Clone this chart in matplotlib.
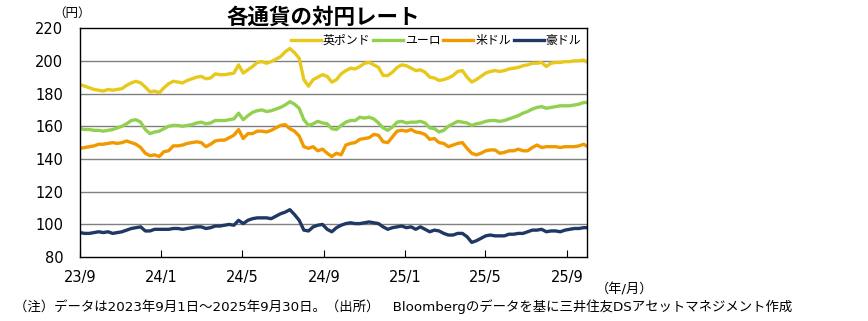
"""Yen cross rates chart (GBP, EUR, USD, AUD vs JPY)."""

import matplotlib
matplotlib.use("Agg")
import matplotlib.pyplot as plt
import pandas as pd

plt.rcParams["font.family"] = ["DejaVu Sans", "Noto Sans CJK JP"]

# weekly (Friday) readings, 2023-09-01 .. 2025-09-26, plus the 2025-09-30 close
gbp = [
    185.5, 184.5, 183.5, 182.5, 182.0,          # 2023 Sep
    181.5, 182.5, 182.0, 182.5,                 # Oct
    183.0, 185.0, 186.5, 187.5,                 # Nov
    186.5, 184.0, 181.0, 181.5, 180.5,          # Dec
    183.5, 186.0, 187.5, 187.0,                 # 2024 Jan
    186.5, 188.0, 189.0, 190.0,                 # Feb
    190.5, 189.0, 189.5, 192.0, 191.5,          # Mar
    191.5, 192.0, 192.5, 197.5,                 # Apr
    192.5, 194.5, 196.5, 199.0, 199.5,          # May
    198.5, 199.5, 201.0, 202.5,                 # Jun
    205.5, 207.5, 205.0, 201.5,                 # Jul
    188.5, 184.5, 188.5, 190.0, 191.5,          # Aug
    190.5, 187.0, 188.5, 192.0,                 # Sep
    194.0, 195.5, 195.0, 196.5,                 # Oct
    198.5, 199.0, 197.5, 196.0, 191.0,          # Nov
    191.0, 193.0, 196.0, 197.5,                 # Dec
    197.0, 195.5, 194.0, 194.5, 193.0,          # 2025 Jan
    190.0, 189.5, 188.0, 188.5,                 # Feb
    189.5, 191.0, 193.5, 194.0,                 # Mar
    190.0, 187.0, 188.5, 190.5,                 # Apr
    192.5, 193.5, 194.0, 193.5, 194.0,          # May
    195.0, 195.5, 196.0, 197.0,                 # Jun
    197.5, 198.5, 198.5, 199.0,                 # Jul
    196.5, 198.5, 199.0, 199.0, 199.5,          # Aug
    199.5, 200.0, 200.0, 200.5, 199.5,          # Sep
]
eur = [
    158.5, 158.0, 158.0, 157.5, 157.5,
    157.0, 157.5, 158.0, 159.0,
    160.0, 161.5, 163.5, 164.0,
    162.5, 158.0, 155.5, 156.5, 157.0,
    158.5, 160.0, 160.5, 160.5,
    160.0, 160.5, 161.0, 162.0,
    162.5, 161.5, 162.0, 163.5, 163.5,
    163.5, 164.0, 164.5, 168.0,
    164.0, 166.5, 168.5, 169.5, 170.0,
    169.0, 169.5, 170.5, 171.5,
    173.0, 175.0, 173.5, 171.0,
    164.0, 160.5, 161.5, 163.0, 162.0,
    161.5, 158.5, 158.0, 160.5,
    162.5, 163.5, 163.5, 165.5,
    165.0, 165.5, 164.5, 162.0, 159.0,
    157.5, 159.5, 162.5, 163.0,
    162.0, 162.5, 162.5, 163.0, 162.0,
    159.0, 158.5, 156.5, 157.5,
    160.0, 161.5, 163.0, 162.5,
    162.0, 160.5, 161.5, 162.0,
    163.0, 163.5, 163.5, 163.0, 163.5,
    164.5, 165.5, 166.5, 168.0,
    169.0, 170.5, 171.5, 172.0,
    171.0, 171.5, 172.0, 172.5, 172.5,
    172.5, 173.0, 173.5, 174.5, 174.5,
]
usd = [
    146.5, 147.0, 147.5, 148.0, 149.0,
    149.0, 149.5, 150.0, 149.5,
    150.0, 151.0, 150.0, 149.0,
    147.0, 143.5, 142.0, 142.5, 141.5,
    144.5, 145.0, 148.0, 148.0,
    148.5, 149.5, 150.0, 150.5,
    150.0, 147.5, 149.0, 151.0, 151.5,
    151.5, 153.0, 154.5, 158.0,
    152.5, 155.5, 155.5, 157.0, 157.0,
    156.5, 157.5, 159.0, 160.5,
    161.0, 158.5, 157.0, 154.0,
    147.5, 146.5, 147.5, 145.0, 146.0,
    143.5, 141.5, 143.5, 142.5,
    148.5, 149.5, 150.0, 152.0,
    152.5, 153.0, 155.0, 154.5, 150.5,
    150.0, 153.5, 157.0, 157.5,
    157.0, 158.0, 156.5, 156.0, 155.0,
    152.0, 152.5, 150.0, 149.5,
    147.5, 148.5, 149.5, 150.0,
    146.5, 143.5, 142.5, 143.5,
    145.0, 145.5, 145.5, 143.5, 144.0,
    145.0, 145.0, 146.0, 145.0,
    145.0, 147.0, 148.5, 147.0,
    147.5, 147.5, 147.5, 147.0, 147.5,
    147.5, 147.5, 148.0, 149.0, 148.0,
]
aud = [
    95.0, 94.5, 94.5, 95.0, 95.5,
    95.0, 95.5, 94.5, 95.0,
    95.5, 96.5, 97.5, 98.0,
    98.5, 96.0, 96.0, 97.0, 97.0,
    97.0, 97.0, 97.5, 97.5,
    97.0, 97.5, 98.0, 98.5,
    98.5, 97.5, 98.0, 99.0, 99.0,
    99.5, 100.0, 99.5, 102.5,
    100.5, 102.5, 103.5, 104.0, 104.0,
    104.0, 103.5, 105.0, 106.5,
    107.5, 109.0, 106.0, 102.5,
    96.5, 96.0, 98.5, 99.5, 100.0,
    97.0, 95.5, 98.0, 99.5,
    100.5, 101.0, 100.5, 100.5,
    101.0, 101.5, 101.0, 100.5, 98.5,
    97.0, 98.0, 98.5, 99.0,
    98.0, 98.5, 97.0, 98.5, 97.0,
    95.5, 96.5, 96.0, 94.5,
    93.5, 93.5, 94.5, 94.5,
    92.5, 89.0, 90.0, 91.5,
    93.0, 93.5, 93.0, 93.0, 93.0,
    94.0, 94.0, 94.5, 94.5,
    95.5, 96.5, 96.5, 97.0,
    95.5, 96.0, 96.0, 95.5, 96.5,
    97.0, 97.5, 97.5, 98.0, 98.0,
]

series_names = ["英ポンド", "ユーロ", "米ドル", "豪ドル"]
series_colors = ["#E8C81A", "#92D050", "#F09A00", "#1F3864"]

tick_dates = ["2023-09-01", "2024-01-01", "2024-05-01", "2024-09-01",
              "2025-01-01", "2025-05-01", "2025-09-01"]
tick_labels = ["23/9", "24/1", "24/5", "24/9", "25/1", "25/5", "25/9"]

dates = list(pd.date_range("2023-09-01", "2025-09-26", freq="W-FRI"))
dates.append(pd.Timestamp("2025-09-30"))

fig = plt.figure(figsize=(8.68, 3.21), dpi=100)
ax = fig.add_axes([0.0922, 0.199, 0.584, 0.7135])

for name, vals, col in zip(series_names, [gbp, eur, usd, aud], series_colors):
    ax.plot(dates, vals, color=col, lw=2.4, label=name)

ax.set_xlim(pd.Timestamp("2023-09-01"), pd.Timestamp("2025-10-01"))
ax.set_ylim(80, 220)
ax.set_yticks(range(80, 221, 20))
ax.set_xticks([pd.Timestamp(d) for d in tick_dates])
ax.set_xticklabels(tick_labels)

for v in range(100, 220, 20):
    ax.axhline(v, color="#808080", lw=1.0, zorder=0)

for s in ax.spines.values():
    s.set_color("black")
    s.set_linewidth(1.0)

ax.tick_params(axis="x", direction="in", length=5, labelsize=10.5, pad=9)
ax.tick_params(axis="y", direction="out", length=0, labelsize=10.5, pad=12)

ax.legend(loc="upper right", ncol=4, frameon=False, fontsize=8.6,
          handlelength=2.5, handletextpad=0.15, columnspacing=0.25,
          borderaxespad=0.1, bbox_to_anchor=(1.0, 1.0))

fig.text(0.372, 0.945, "各通貨の対円レート", ha="center", va="center",
         fontsize=15.5, fontweight="bold")
fig.text(0.083, 0.958, "（円）", ha="center", va="center", fontsize=9)
fig.text(0.72, 0.097, "（年/月）", ha="center", va="center", fontsize=9.5)
fig.text(0.016, 0.045,
         "（注）データは2023年9月1日～2025年9月30日。（出所）　"
         "Bloombergのデータを基に三井住友DSアセットマネジメント作成",
         ha="left", va="center", fontsize=9.65)

fig.savefig("out.png", dpi=100)
